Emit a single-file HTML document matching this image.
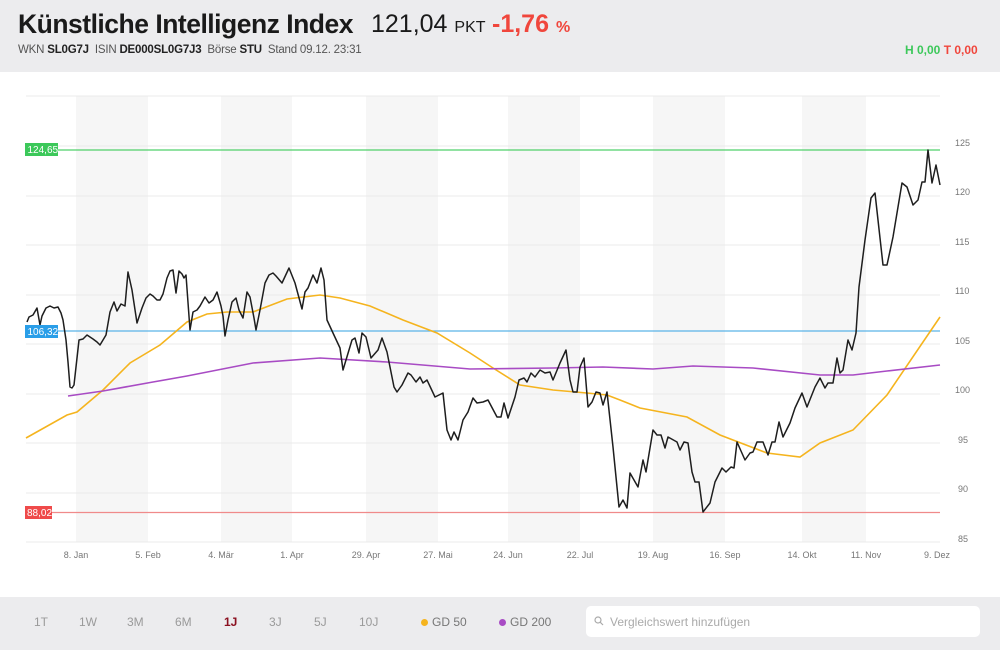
<!DOCTYPE html>
<html><head><meta charset="utf-8"><style>
body{margin:0;width:1000px;height:650px;background:#fff;font-family:"Liberation Sans",sans-serif;position:relative;overflow:hidden}
.hdr{position:absolute;left:0;top:0;width:1000px;height:72px;background:#ececee}
.ftr{position:absolute;left:0;top:597px;width:1000px;height:53px;background:#ececee}
.abs{position:absolute;white-space:nowrap}
</style></head><body>
<div class="hdr"></div>
<div class="abs" style="left:18px;top:9px;font-size:26.5px;font-weight:bold;color:#1a1a1a;letter-spacing:-0.5px">Künstliche Intelligenz Index</div>
<div class="abs" style="left:371px;top:10px;font-size:25px;color:#1a1a1a">121,04 <span style="font-size:16px">PKT</span></div>
<div class="abs" style="left:492px;top:10px;font-size:25px;font-weight:bold;color:#f0463c">-1,76 <span style="font-size:16px">%</span></div>
<div class="abs" style="left:18px;top:44px;font-size:11.5px;color:#555;letter-spacing:-0.2px">WKN <b style="color:#222">SL0G7J</b>&nbsp; ISIN <b style="color:#222">DE000SL0G7J3</b>&nbsp; Börse <b style="color:#222">STU</b>&nbsp; Stand 09.12. 23:31</div>
<div class="abs" style="left:905px;top:43px;font-size:12px;font-weight:bold"><span style="color:#3cc85a">H 0,00</span> <span style="color:#f0463c">T 0,00</span></div>
<svg class="abs" style="left:0;top:0" width="1000" height="597" font-family="Liberation Sans, sans-serif">
<g fill="#f6f6f6">
<rect x="76" y="96" width="72" height="446"/><rect x="221" y="96" width="71" height="446"/><rect x="366" y="96" width="72" height="446"/><rect x="508" y="96" width="72" height="446"/><rect x="653" y="96" width="72" height="446"/><rect x="802" y="96" width="64" height="446"/>
</g>
<g stroke="#ebebeb" stroke-width="1">
<line x1="26" x2="940" y1="96" y2="96"/><line x1="26" x2="940" y1="146" y2="146"/><line x1="26" x2="940" y1="196" y2="196"/><line x1="26" x2="940" y1="245" y2="245"/><line x1="26" x2="940" y1="295" y2="295"/><line x1="26" x2="940" y1="344" y2="344"/><line x1="26" x2="940" y1="394" y2="394"/><line x1="26" x2="940" y1="443" y2="443"/><line x1="26" x2="940" y1="493" y2="493"/><line x1="26" x2="940" y1="542" y2="542"/>
</g>
<g font-size="9" fill="#777" text-anchor="start">
<text x="955" y="146">125</text><text x="955" y="195">120</text><text x="955" y="245">115</text><text x="955" y="294">110</text><text x="955" y="344">105</text><text x="955" y="393">100</text><text x="958" y="443">95</text><text x="958" y="492">90</text><text x="958" y="542">85</text>
</g>
<g font-size="9" fill="#777" text-anchor="middle">
<text x="76" y="558">8. Jan</text><text x="148" y="558">5. Feb</text><text x="221" y="558">4. Mär</text><text x="292" y="558">1. Apr</text><text x="366" y="558">29. Apr</text><text x="438" y="558">27. Mai</text><text x="508" y="558">24. Jun</text><text x="580" y="558">22. Jul</text><text x="653" y="558">19. Aug</text><text x="725" y="558">16. Sep</text><text x="802" y="558">14. Okt</text><text x="866" y="558">11. Nov</text><text x="937" y="558">9. Dez</text>
</g>
<line x1="26" x2="940" y1="150" y2="150" stroke="#4fd06a" stroke-width="1.2"/>
<line x1="26" x2="940" y1="331" y2="331" stroke="#5ab4e8" stroke-width="1.2"/>
<line x1="26" x2="940" y1="512.5" y2="512.5" stroke="#f08a8a" stroke-width="1.2"/>
<polyline fill="none" stroke="#f5b41e" stroke-width="1.6" points="26,438 67,415 77,412 103,390 130,363 160,345 187,322 207,314 227,312 253,312 287,299 320,295 340,298 370,306 403,320 437,333 470,353 493,368 520,385 553,390 587,393 607,395 620,400 640,408 687,417 720,435 767,453 800,457 820,443 853,430 887,395 940,317"/>
<polyline fill="none" stroke="#a84bc4" stroke-width="1.6" points="68,396 103,391 153,382 187,376 253,363 320,358 387,362 470,369 553,368 603,367 653,369 693,366 753,368 820,375 853,375 887,371 940,365"/>
<polyline fill="none" stroke="#1e1e1e" stroke-width="1.5" stroke-linejoin="round" points="27,322 29,317 33,315 37,308 40,325 42,316 46,308 50,306 54,308 58,307 61,313 63,320 66,340 68,362 70,387 72,388 74,385 76,367 79,340 83,339 87,335 90,337 93,339 97,342 100,345 103,340 106,335 110,312 114,302 117,311 121,304 125,306 128,272 132,290 137,323 142,308 146,298 150,294 153,296 157,300 160,300 163,294 167,278 170,271 173,270 176,293 179,271 182,274 184,278 186,275 190,330 193,312 197,310 200,306 205,297 209,303 213,300 217,292 221,306 223,316 225,336 228,320 232,302 236,298 239,310 243,318 247,292 250,297 254,318 256,330 260,310 265,283 269,275 273,273 276,276 282,283 289,268 295,283 302,309 305,292 308,288 313,275 317,283 321,268 324,280 327,320 333,333 340,348 343,370 352,340 355,338 359,353 362,333 366,337 371,358 378,350 382,338 387,352 394,387 397,392 402,385 408,373 411,375 416,382 420,377 423,383 427,380 435,397 443,393 447,430 451,440 454,432 458,440 463,420 468,412 473,398 477,403 483,402 488,400 497,417 501,417 504,403 508,418 515,397 519,380 524,378 527,382 531,373 535,377 540,370 545,373 550,372 553,380 560,363 566,350 570,380 573,392 577,392 580,367 584,358 588,407 592,402 596,392 600,393 603,405 607,392 613,447 619,507 623,500 627,508 630,473 638,487 643,460 646,472 653,430 657,435 661,435 665,448 668,437 677,442 680,450 684,442 688,443 692,472 695,482 699,482 703,512 710,503 715,482 722,468 726,472 731,467 734,468 737,442 745,460 750,453 753,452 757,442 763,442 768,455 772,442 775,442 779,422 783,437 790,423 795,408 802,393 807,407 815,387 820,378 825,388 828,383 833,383 837,358 840,373 843,370 848,340 852,350 856,333 859,287 865,240 871,198 875,193 883,265 887,265 893,237 902,183 907,187 913,205 918,200 922,182 925,182 928,150 932,183 936,165 940,185"/>
<rect x="25" y="143" width="33" height="13" fill="#3cc85a"/><text x="27.5" y="153" font-size="10" fill="#fff">124,65</text>
<rect x="25" y="325" width="33" height="13" fill="#2a9ee8"/><text x="27.5" y="335" font-size="10" fill="#fff">106,32</text>
<rect x="25" y="506" width="27" height="13" fill="#ef4a4a"/><text x="27" y="516" font-size="10" fill="#fff">88,02</text>
</svg>
<div class="ftr"></div>
<div class="abs" style="top:615px;left:0;font-size:12px;color:#9a9a9a">
<span class="abs" style="left:34px">1T</span><span class="abs" style="left:79px">1W</span><span class="abs" style="left:127px">3M</span><span class="abs" style="left:175px">6M</span><span class="abs" style="left:224px;color:#8b1020;font-weight:bold">1J</span><span class="abs" style="left:269px">3J</span><span class="abs" style="left:314px">5J</span><span class="abs" style="left:359px">10J</span>
<span class="abs" style="left:421px;top:4px;width:7px;height:7px;border-radius:50%;background:#f5b41e"></span><span class="abs" style="left:432px;color:#777">GD 50</span>
<span class="abs" style="left:499px;top:4px;width:7px;height:7px;border-radius:50%;background:#a84bc4"></span><span class="abs" style="left:510px;color:#777">GD 200</span>
</div>
<div class="abs" style="left:586px;top:606px;width:394px;height:31px;background:#fff;border-radius:5px"></div>
<svg class="abs" style="left:594px;top:616px" width="10" height="10"><circle cx="4" cy="4" r="3" fill="none" stroke="#aaa" stroke-width="1.2"/><line x1="6.2" y1="6.2" x2="9" y2="9" stroke="#aaa" stroke-width="1.2"/></svg>
<div class="abs" style="left:610px;top:615px;font-size:12px;color:#aaa">Vergleichswert hinzufügen</div>
</body></html>
